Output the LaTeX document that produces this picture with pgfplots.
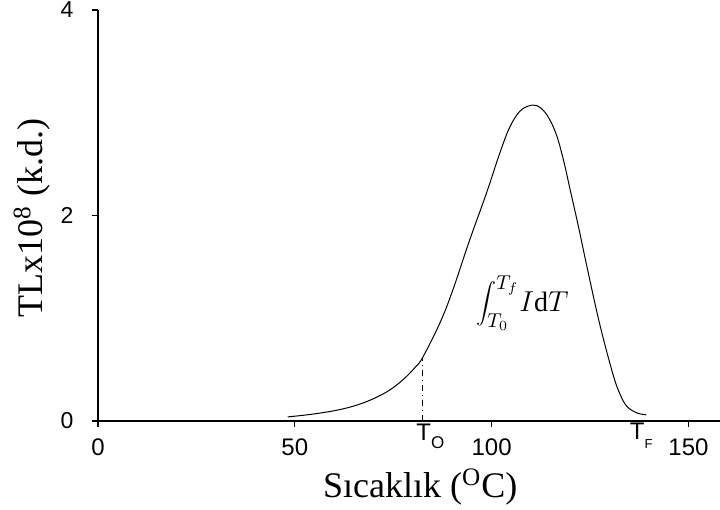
\documentclass[border=0pt]{standalone}
\usepackage{fontspec}
\setmainfont{Liberation Serif}
\newfontfamily\arial{Liberation Sans}
\usepackage{pgfplots}
\pgfplotsset{compat=1.18}
\begin{document}
\begin{tikzpicture}
\begin{axis}[
  at={(0,0)}, anchor=south west,
  scale only axis,
  width=311pt, height=205.5pt,
  xmin=0, xmax=158, ymin=0, ymax=4,
  axis lines=left,
  axis line style={-, line width=0.6pt},
  every tick/.style={black, line width=0.6pt},
  tick align=outside,
  major tick length=3pt,
  xtick={0,50,100,150},
  ytick={0,2,4},
  /pgf/number format/assume math mode=true,
  xticklabel style={font=\arial\fontsize{12}{14}\selectfont},
  yticklabel style={font=\arial\fontsize{11.5}{13}\selectfont},
  xticklabel shift=2.5pt,
  yticklabel shift=5.7pt,
  xlabel={Sıcaklık (\textsuperscript{O}C)},
  ylabel={TLx10\textsuperscript{8} (k.d.)},
  every axis x label/.style={at={(axis description cs:0.518,0)}, yshift=-33pt, anchor=center, font=\fontsize{18}{21}\selectfont},
  every axis y label/.style={at={(axis description cs:0,0.494)}, xshift=-33pt, rotate=90, anchor=center, font=\fontsize{18}{21}\selectfont},
  clip=false,
]
\addplot[black, line width=0.5pt, smooth, tension=0.6] coordinates {
(48.2,0.04) (52,0.055) (56,0.075) (60,0.1) (64,0.135) (68,0.185) (72,0.255) (75,0.325) (78,0.42) (80.5,0.52) (82.5,0.62)
(86.8,0.95) (90,1.26) (94.4,1.76) (98.7,2.22) (102,2.6) (104.6,2.86) (107.3,3.02) (110.4,3.075)
(112.5,3.045) (114.5,2.95) (116.5,2.78) (118.3,2.53) (120,2.24) (122,1.9) (124.1,1.52) (127.4,0.95) (130.7,0.47)
(132.5,0.27) (134.3,0.145) (136.8,0.08) (139.3,0.06)
};
\addplot[black, line width=0.5pt, dash dot] coordinates {(82.5,0) (82.5,0.62)};
\node[anchor=north west, inner sep=0pt, font=\arial\fontsize{12}{14}\selectfont] at (axis cs:80.8,-0.03) {T\raisebox{-4pt}{\fontsize{8.5}{9}\selectfont O}};
\node[anchor=north west, inner sep=0pt, font=\arial\fontsize{12}{14}\selectfont] at (axis cs:135.0,-0.02) {T\raisebox{-4.5pt}{\fontsize{6.5}{7}\selectfont F}};
\node[font=\fontsize{14}{17}\selectfont, inner sep=0pt] at (axis cs:107.8,1.15) {$\displaystyle\int_{T_0}^{T_f}\! I\mathrm{d}T$};
\end{axis}
\pgfresetboundingbox
\path (-49pt,-44.5pt) rectangle (311pt,210.5pt);
\end{tikzpicture}
\end{document}
